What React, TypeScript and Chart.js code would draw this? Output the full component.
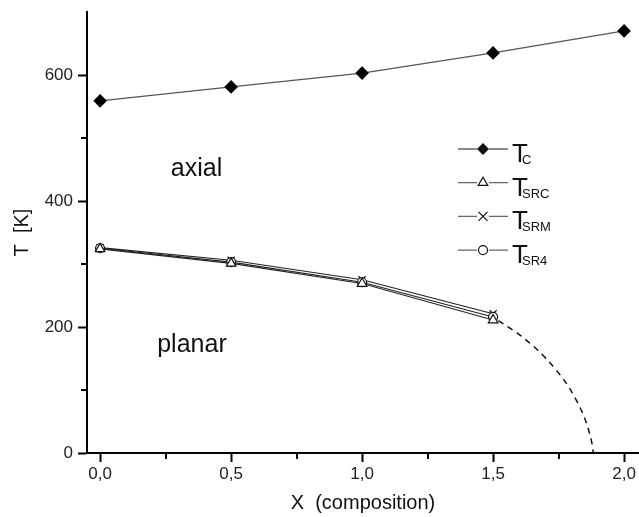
import React, { useEffect, useRef } from "react";
import { Chart, registerables } from "chart.js";

Chart.register(...registerables);

// ---- data ----
const xTickValues = [0, 0.5, 1.0, 1.5, 2.0];
const yTickValues = [0, 200, 400, 600];
const xMinorTicks = [0.25, 0.75, 1.25, 1.75];
const yMinorTicks = [100, 300, 500];

const compTc = [0, 0.5, 1.0, 1.5, 2.0];
const tC = [559, 581, 603, 635, 670];

const compSR = [0, 0.5, 1.0, 1.5];
const tSRC = [324, 301, 269, 211];
const tSRM = [326, 306, 275, 221];
const tSR4 = [325, 303, 271, 216];

const boundaryX = [1.52, 1.546, 1.6, 1.65, 1.7, 1.75, 1.79, 1.82, 1.845, 1.865, 1.878, 1.883];
const boundaryT = [210, 203, 188, 171, 151, 127, 104, 82, 60, 36, 14, 0];

const regionNames = ["axial", "planar"];
const regionX = [0.27, 0.218];
const regionT = [440, 160];

const legendSubs = ["C", "SRC", "SRM", "SR4"];
const legendStyles = ["diamond", "triangle", "cross", "circle"];

const FONT = '"Liberation Sans", Arial, Helvetica, sans-serif';

const toPts = (xs: number[], ys: number[]) => xs.map((v, i) => ({ x: v, y: ys[i] }));

function drawMarker(ctx: CanvasRenderingContext2D, style: string, x: number, y: number) {
  ctx.save();
  ctx.strokeStyle = "#111";
  ctx.fillStyle = "#111";
  ctx.lineWidth = 1.2;
  ctx.beginPath();
  if (style === "diamond") {
    const r = 6;
    ctx.moveTo(x, y - r);
    ctx.lineTo(x + r, y);
    ctx.lineTo(x, y + r);
    ctx.lineTo(x - r, y);
    ctx.closePath();
    ctx.fill();
  } else if (style === "triangle") {
    const r = 5.5;
    ctx.moveTo(x, y - r);
    ctx.lineTo(x + r * 0.866, y + r * 0.5);
    ctx.lineTo(x - r * 0.866, y + r * 0.5);
    ctx.closePath();
    ctx.fillStyle = "#fff";
    ctx.fill();
    ctx.stroke();
  } else if (style === "cross") {
    const r = 4.5;
    ctx.moveTo(x - r, y - r);
    ctx.lineTo(x + r, y + r);
    ctx.moveTo(x + r, y - r);
    ctx.lineTo(x - r, y + r);
    ctx.stroke();
  } else {
    ctx.arc(x, y, 4.5, 0, Math.PI * 2);
    ctx.fillStyle = "#fff";
    ctx.fill();
    ctx.stroke();
  }
  ctx.restore();
}

const overlayPlugin = {
  id: "overlay",
  afterDraw(chart: any) {
    const { ctx, chartArea, scales } = chart;
    const xs = scales.x;
    const ys = scales.y;
    ctx.save();
    // minor ticks
    ctx.strokeStyle = "#000";
    ctx.lineWidth = 2;
    xMinorTicks.forEach((v) => {
      const px = Math.round(xs.getPixelForValue(v));
      ctx.beginPath();
      ctx.moveTo(px, chartArea.bottom);
      ctx.lineTo(px, chartArea.bottom + 6);
      ctx.stroke();
    });
    yMinorTicks.forEach((v) => {
      const py = Math.round(ys.getPixelForValue(v));
      ctx.beginPath();
      ctx.moveTo(chartArea.left, py);
      ctx.lineTo(chartArea.left - 6, py);
      ctx.stroke();
    });
    // region labels
    ctx.fillStyle = "#111";
    ctx.font = `25px ${FONT}`;
    ctx.textAlign = "left";
    ctx.textBaseline = "alphabetic";
    regionNames.forEach((name, i) => {
      ctx.fillText(name, xs.getPixelForValue(regionX[i]), ys.getPixelForValue(regionT[i]));
    });
    // legend
    const lx = chartArea.left + 371;
    const rowY0 = chartArea.top + 137;
    const rowGap = 33.7;
    legendSubs.forEach((sub, i) => {
      const ry = rowY0 + i * rowGap;
      ctx.strokeStyle = "#666";
      ctx.lineWidth = 1.3;
      ctx.beginPath();
      ctx.moveTo(lx, ry);
      ctx.lineTo(lx + 19, ry);
      ctx.moveTo(lx + 31, ry);
      ctx.lineTo(lx + 50, ry);
      ctx.stroke();
      drawMarker(ctx, legendStyles[i], lx + 25, ry);
      ctx.fillStyle = "#111";
      ctx.font = `26px ${FONT}`;
      ctx.fillText("T", lx + 54, ry + 13);
      ctx.font = `13px ${FONT}`;
      ctx.fillText(sub, lx + 64, ry + 15);
    });
    ctx.restore();
  },
};

export default function App() {
  const ref = useRef<HTMLCanvasElement | null>(null);
  useEffect(() => {
    if (!ref.current) return;
    const lineCommon = {
      showLine: true,
      tension: 0,
      borderWidth: 1.1,
      pointBorderWidth: 1.2,
    };
    const chart = new Chart(ref.current, {
      type: "scatter",
      data: {
        datasets: [
          {
            label: "boundary",
            data: toPts(boundaryX, boundaryT),
            showLine: true,
            borderColor: "#111",
            borderWidth: 1.5,
            borderDash: [6, 5],
            pointRadius: 0,
            cubicInterpolationMode: "monotone",
          },
          {
            ...lineCommon,
            label: "TSRC",
            data: toPts(compSR, tSRC),
            borderColor: "#222",
            pointStyle: "triangle",
            pointRadius: 5.5,
            pointBackgroundColor: "#fff",
            pointBorderColor: "#111",
          },
          {
            ...lineCommon,
            label: "TSR4",
            data: toPts(compSR, tSR4),
            borderColor: "#222",
            pointStyle: "circle",
            pointRadius: 4.5,
            pointBackgroundColor: "#fff",
            pointBorderColor: "#111",
          },
          {
            ...lineCommon,
            label: "TSRM",
            data: toPts(compSR, tSRM),
            borderColor: "#222",
            pointStyle: "crossRot",
            pointRadius: 5,
            pointBackgroundColor: "#111",
            pointBorderColor: "#111",
          },
          {
            ...lineCommon,
            label: "TC",
            data: toPts(compTc, tC),
            borderColor: "#555",
            borderWidth: 1.3,
            pointStyle: "rectRot",
            pointRadius: 6,
            pointBackgroundColor: "#000",
            pointBorderColor: "#000",
          },
        ],
      },
      options: {
        animation: false,
        responsive: false,
        devicePixelRatio: 1,
        layout: { autoPadding: false, padding: { top: 12, right: 0, left: 0, bottom: 0 } },
        plugins: { legend: { display: false }, tooltip: { enabled: false } },
        scales: {
          x: {
            type: "linear",
            min: -0.05,
            max: 2.057,
            afterBuildTicks: (s: any) => {
              s.ticks = xTickValues.map((v) => ({ value: v }));
            },
            afterFit: (s: any) => {
              s.height = 64;
              s.paddingLeft = 0;
              s.paddingRight = 0;
            },
            ticks: {
              color: "#222",
              font: { family: FONT, size: 17 },
              padding: 2,
              callback: (v: any) => Number(v).toFixed(1).replace(".", ","),
            },
            grid: {
              drawOnChartArea: false,
              drawTicks: true,
              tickLength: 9,
              tickColor: "#000",
              tickWidth: 2,
            },
            border: { color: "#000", width: 2 },
            title: {
              display: true,
              text: "X  (composition)",
              color: "#111",
              font: { family: FONT, size: 20 },
              padding: { top: 0, bottom: 2 },
            },
          },
          y: {
            type: "linear",
            min: 0,
            max: 700,
            afterBuildTicks: (s: any) => {
              s.ticks = yTickValues.map((v) => ({ value: v }));
            },
            afterFit: (s: any) => {
              s.width = 87;
              s.paddingTop = 0;
              s.paddingBottom = 0;
            },
            ticks: {
              color: "#222",
              font: { family: FONT, size: 17 },
              padding: 5,
            },
            grid: {
              drawOnChartArea: false,
              drawTicks: true,
              tickLength: 9,
              tickColor: "#000",
              tickWidth: 2,
            },
            border: { color: "#000", width: 2 },
            title: {
              display: true,
              text: "T  [K]",
              color: "#111",
              font: { family: FONT, size: 20 },
              padding: { top: 10, bottom: 0 },
            },
          },
        },
      },
      plugins: [overlayPlugin],
    } as any);
    return () => chart.destroy();
  }, []);
  return (
    <div style={{ position: "fixed", left: 0, top: 0, width: 639, height: 517, background: "#fff" }}>
      <canvas ref={ref} width={639} height={517} style={{ display: "block" }} />
    </div>
  );
}
